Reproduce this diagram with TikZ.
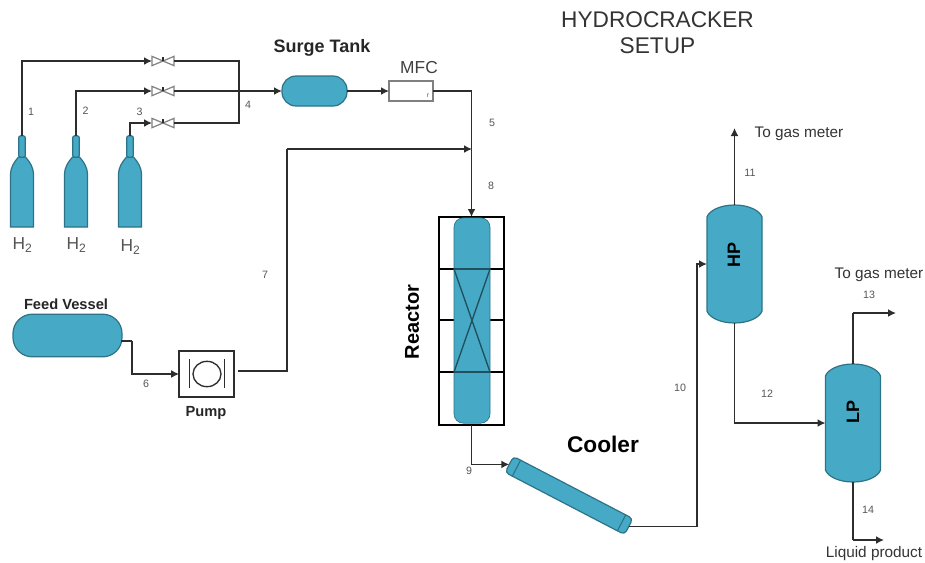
\documentclass[tikz,border=0pt]{standalone}
\usepackage{fontspec}
\setmainfont{Liberation Sans}
\usepackage{tikz}
\usetikzlibrary{positioning,arrows.meta,calc,shapes.geometric}
\usepackage{xcolor}
\definecolor{vesselblue}{RGB}{70,170,198}
\definecolor{vesseledge}{RGB}{45,115,135}
\definecolor{pipegray}{RGB}{45,45,45}
\definecolor{labelgray}{RGB}{85,85,85}
\tikzset{
  pipe/.style={draw=pipegray,line width=1.2pt},
  flow/.style={pipe,-{Latex[length=6pt,width=6pt]}},
  vessel/.style={draw=vesseledge,fill=vesselblue,line width=0.9pt,outer sep=0pt},
  anchorbox/.style={rectangle,draw=none,inner sep=0pt,outer sep=0pt},
  framebar/.style={draw=black,line width=1.5pt},
  innerbar/.style={draw=vesseledge!70!black,line width=1pt},
  valvebody/.style={draw=gray,fill=white,line width=0.9pt},
  streamno/.style={font=\fontsize{8}{9}\selectfont,text=labelgray},
  tag/.style={font=\fontsize{11.5}{13}\selectfont,text=black!80},
  boldtag/.style={font=\fontsize{11}{13}\selectfont\bfseries,text=black!85}
}
% drum with domed ends, drawn round an empty node
\newcommand{\domedrum}[2]{
  \draw[vessel] ($(#1.north west)+(0,#2)$)
    .. controls ($(#1.north west)+(2,6)$) and ($(#1.north)+(-15,0)$) .. (#1.north)
    .. controls ($(#1.north)+(15,0)$) and ($(#1.north east)+(-2,6)$) .. ($(#1.north east)+(0,#2)$)
    -- ($(#1.south east)+(0,-#2)$)
    .. controls ($(#1.south east)+(-2,-6)$) and ($(#1.south)+(15,0)$) .. (#1.south)
    .. controls ($(#1.south)+(-15,0)$) and ($(#1.south west)+(2,-6)$) .. ($(#1.south west)+(0,-#2)$)
    -- cycle;
}
\begin{document}
\begin{tikzpicture}[x=0.75pt,y=-0.75pt]
\useasboundingbox (0,0) rectangle (925,562);

% gas bottles
\foreach \i/\xpos/\ytag in {1/22/245,2/76/245,3/130/247}{
  \draw[vessel] (\xpos-11.5,227) -- (\xpos-11.5,174)
    .. controls (\xpos-11.5,168) and (\xpos-8,162) .. (\xpos-3.5,157)
    -- (\xpos+3.5,157)
    .. controls (\xpos+8,162) and (\xpos+11.5,168) .. (\xpos+11.5,174)
    -- (\xpos+11.5,227) -- cycle;
  \node[vessel,rectangle,rounded corners=1.5pt,minimum width=5pt,minimum height=16pt,inner sep=0pt] (neck\i) at (\xpos,146.5) {};
  \node[font=\fontsize{13}{15}\selectfont,text=labelgray] (gas\i) at (\xpos+0.5,\ytag) {H\textsubscript{2}};
}

% valves
\node[anchorbox,minimum width=16.5pt,minimum height=7pt] (valve1) at (163,61) {};
\node[anchorbox,minimum width=16.5pt,minimum height=7pt] (valve2) at (163,91) {};
\node[anchorbox,minimum width=16.5pt,minimum height=7pt] (valve3) at (163,123) {};
\foreach \v in {valve1,valve2,valve3}{
  \draw[valvebody] (\v.north west) -- (\v.south east) -- (\v.north east) -- (\v.south west) -- cycle;
  \draw[pipe] (\v.center) -- ++(0,-4);
}

% surge tank and flow controller
\node[vessel,rectangle,rounded corners=10.5pt,minimum width=48.75pt,minimum height=22.5pt] (surge) at (314.5,91) {};
\node[rectangle,draw=gray,fill=white,line width=0.9pt,outer sep=0pt,minimum width=33pt,minimum height=15pt] (mfc) at (411,91) {};
\node[font=\fontsize{5}{6}\selectfont,text=labelgray] (mfcmark) at (428,95.5) {r};

% feed side
\node[vessel,rectangle,rounded corners=14.5pt,minimum width=81.75pt,minimum height=32pt] (feed) at (67.5,335.5) {};
\node[rectangle,draw=pipegray,fill=white,line width=1.1pt,outer sep=0pt,minimum width=41pt,minimum height=34.5pt] (pump) at (206.5,374) {};
\node[ellipse,draw=pipegray,line width=1pt,minimum width=21pt,minimum height=19pt,inner sep=0pt] (rotor) at (207,374) {};
\draw[pipe] ($(rotor.west)+(-3,-15)$) -- ($(rotor.west)+(-3,14)$);
\draw[pipe] ($(rotor.east)+(3,-15)$) -- ($(rotor.east)+(3,14)$);

% reactor
\node[rectangle,draw=black,line width=1.5pt,outer sep=0pt,minimum width=48.75pt,minimum height=156pt] (reactor) at (471.5,321) {};
\draw[framebar] (reactor.west |- 0,269) -- (reactor.east |- 0,269);
\draw[framebar] (reactor.west |- 0,372) -- (reactor.east |- 0,372);
\draw[framebar] (reactor.west |- 0,320) -- (454,320);
\draw[framebar] (490,320) -- (reactor.east |- 0,320);
\node[rectangle,rounded corners=7pt,draw=vesseledge,fill=vesselblue,line width=0.5pt,outer sep=0pt,minimum width=27pt,minimum height=154pt] (column) at (472,320.5) {};
\draw[innerbar] (column.west |- 0,269) -- (column.east |- 0,269);
\draw[innerbar] (column.west |- 0,372) -- (column.east |- 0,372);
\draw[innerbar] (column.west |- 0,269) -- (column.east |- 0,372);
\draw[innerbar] (column.east |- 0,269) -- (column.west |- 0,372);

% cooler
\node[vessel,rectangle,rounded corners=3pt,rotate=-27.5,minimum width=101pt,minimum height=13.5pt] (cooler) at (569,495.5) {};
\draw[draw=vesseledge,line width=0.8pt] ($(cooler.north west)!0.06!(cooler.north east)$) -- ($(cooler.south west)!0.06!(cooler.south east)$);
\draw[draw=vesseledge,line width=0.8pt] ($(cooler.north west)!0.94!(cooler.north east)$) -- ($(cooler.south west)!0.94!(cooler.south east)$);

% separators
\node[anchorbox,minimum width=41.25pt,minimum height=88.5pt] (hp) at (734.5,264) {};
\domedrum{hp}{12}
\node[rotate=90,font=\fontsize{13.5}{15}\selectfont\bfseries] (hptag) at (734,255) {HP};
\node[anchorbox,minimum width=41.25pt,minimum height=88.5pt] (lp) at (853,423) {};
\domedrum{lp}{12}
\node[rotate=90,font=\fontsize{13.5}{15}\selectfont\bfseries] (lptag) at (853,412) {LP};

% free pipe ends and bends
\coordinate (header) at (239,91);
\coordinate (mix) at (472,149);
\coordinate (feedtop) at (287,149);
\coordinate (pumpout) at (238,371);
\coordinate (feedout) at (121,341);
\coordinate (feedbend) at (132,341);
\coordinate (coolbend) at (697,264);
\coordinate (gasout1) at (734.5,128);
\coordinate (gasbend2) at (853,313);
\coordinate (gasout2) at (896,313);
\coordinate (liqbend) at (853,540);
\coordinate (liqout) at (884,540);

% pipes
\draw[flow] (neck1.north) |- (valve1.west);
\draw[flow] (neck2.north) |- (valve2.west);
\draw[flow] (neck3.north) |- (valve3.west);
\draw[pipe] (valve1.east) -| (header);
\draw[pipe] (valve3.east) -| (header);
\draw[flow] (valve2.east) -- (surge.west);
\draw[flow] (surge.east) -- (mfc.west);
\draw[flow] (mfc.east) -| (reactor.north);
\draw[pipe] (pumpout) -| (feedtop);
\draw[flow] (feedtop) -- (mix);
\draw[pipe] (feedout) -- (feedbend);
\draw[flow] (feedbend) |- (pump.west);
\draw[flow] (reactor.south) |- (cooler.west);
\draw[flow] (cooler.east) -| (coolbend) -- (hp.west);
\draw[flow] (hp.north) -- (gasout1);
\draw[flow] (hp.south) |- (lp.west);
\draw[pipe] (lp.north) -- (gasbend2);
\draw[flow] (gasbend2) -- (gasout2);
\draw[pipe] (lp.south) -- (liqbend);
\draw[flow] (liqbend) -- (liqout);

% labels
\node[font=\fontsize{17}{19.5}\selectfont,text=black!80,align=center] (title) at (657.5,33) {HYDROCRACKER\\SETUP};
\node[font=\fontsize{13.5}{15}\selectfont\bfseries,text=black!85] (surgetag) at (322,48) {Surge Tank};
\node[font=\fontsize{13}{15}\selectfont,text=black!75] (mfctag) at (419,68) {MFC};
\node[boldtag] (feedtag) at (66,304) {Feed Vessel};
\node[boldtag] (pumptag) at (206,413) {Pump};
\node[rotate=90,font=\fontsize{15}{17}\selectfont\bfseries] (reactortag) at (412,322) {Reactor};
\node[font=\fontsize{17}{19}\selectfont\bfseries] (coolertag) at (603,444) {Cooler};
\node[tag] (gastag1) at (799,134) {To gas meter};
\node[tag] (gastag2) at (879,275) {To gas meter};
\node[tag] (liqtag) at (874,554) {Liquid product};

% stream numbers
\node[streamno] (s1) at (31,112) {1};
\node[streamno] (s2) at (85.5,111) {2};
\node[streamno] (s3) at (139.5,112) {3};
\node[streamno] (s4) at (248,105) {4};
\node[streamno] (s5) at (492,123) {5};
\node[streamno] (s6) at (146,384) {6};
\node[streamno] (s7) at (265,275) {7};
\node[streamno] (s8) at (491,186) {8};
\node[streamno] (s9) at (469,471) {9};
\node[streamno] (s10) at (680,388) {10};
\node[streamno] (s11) at (750,173) {11};
\node[streamno] (s12) at (767,394) {12};
\node[streamno] (s13) at (869,295) {13};
\node[streamno] (s14) at (868,510) {14};
\end{tikzpicture}
\end{document}
